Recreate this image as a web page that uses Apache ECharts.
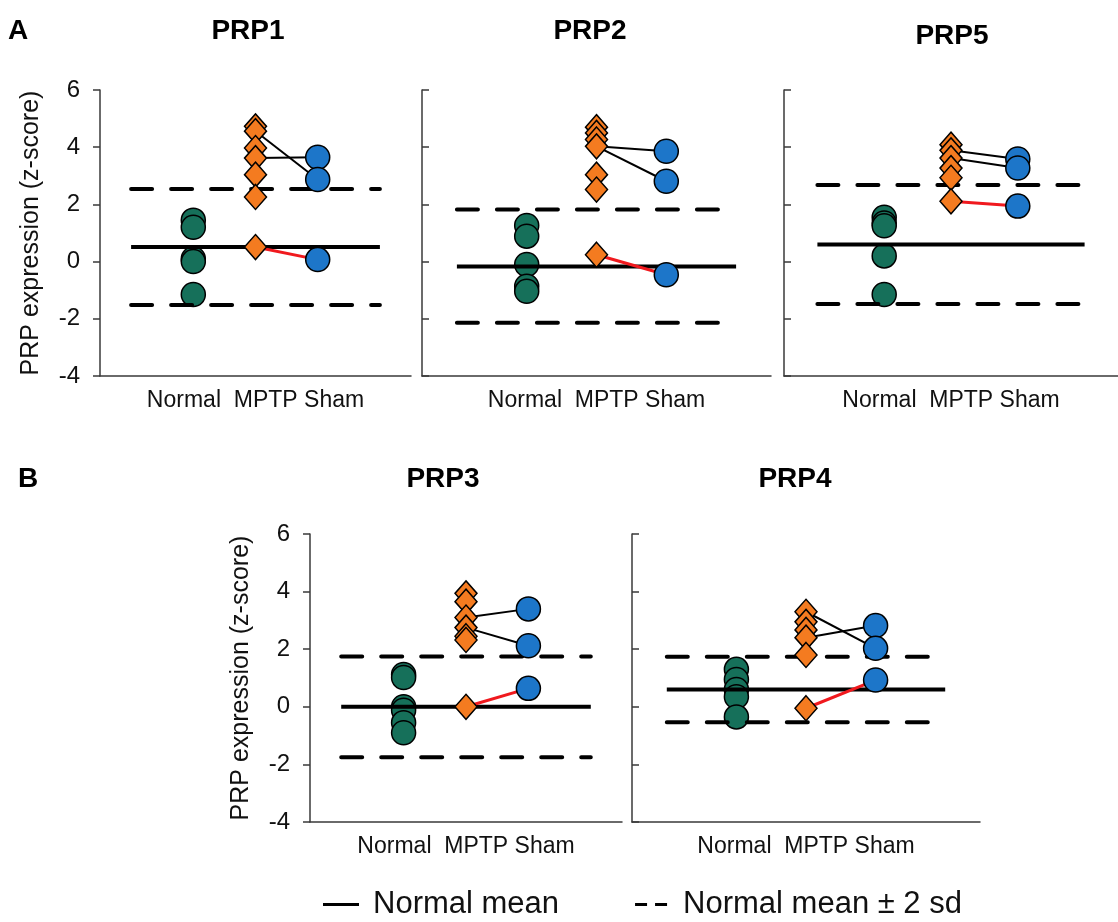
<!DOCTYPE html>
<html>
<head>
<meta charset="utf-8">
<script src="https://cdn.jsdelivr.net/npm/echarts@6/dist/echarts.min.js"></script>
<style>
  html, body { margin: 0; padding: 0; background: #fff; }
  #main { width: 1118px; height: 922px; }
</style>
</head>
<body>
<div id="main"></div>
<script>
// values (z-scores)
const groups = ['Normal', 'MPTP', 'Sham'];
const panelTitles = ['PRP1', 'PRP2', 'PRP5', 'PRP3', 'PRP4'];

const normalVals = [
  [1.45, 1.2, 0.1, 0.0, -1.15],
  [1.26, 0.89, -0.1, -0.86, -1.04],
  [1.55, 1.35, 1.25, 0.2, -1.15],
  [1.12, 1.02, 0.0, -0.12, -0.55, -0.9],
  [1.3, 0.95, 0.6, 0.35, -0.35]
];
const mptpVals = [
  [4.73, 4.56, 3.97, 3.62, 3.04, 2.26, 0.51],
  [4.7, 4.5, 4.27, 4.03, 3.04, 2.52, 0.24],
  [4.09, 3.89, 3.62, 3.27, 2.93, 2.11],
  [3.94, 3.65, 3.1, 2.75, 2.45, 2.32, 0.0],
  [3.3, 2.95, 2.67, 2.4, 1.8, -0.05]
];
const shamVals = [
  [3.65, 2.87, 0.07],
  [3.86, 2.81, -0.46],
  [3.59, 3.27, 1.94],
  [3.4, 2.12, 0.64],
  [2.82, 2.03, 0.93]
];
// same animal before (MPTP) and after (Sham), [mptp, sham]
const blackLinks = [
  [[4.56, 2.87], [3.62, 3.65]],
  [[4.03, 3.86], [4.03, 2.81]],
  [[3.89, 3.59], [3.62, 3.27]],
  [[3.1, 3.4], [2.75, 2.12]],
  [[3.3, 2.03], [2.4, 2.82]]
];
const redLinks = [[0.51, 0.07], [0.24, -0.46], [2.11, 1.94], [0.0, 0.64], [-0.05, 0.93]];
const normalMean = [0.51, -0.17, 0.6, 0.0, 0.6];
const upper2sd = [2.54, 1.82, 2.68, 1.75, 1.74];
const lower2sd = [-1.52, -2.14, -1.48, -1.75, -0.54];

// layout
const grids = [
  { left: 100, top: 90, width: 311, height: 286 },
  { left: 422, top: 90, width: 349, height: 286 },
  { left: 784, top: 90, width: 345, height: 286 },
  { left: 310, top: 534, width: 312, height: 288 },
  { left: 632, top: 534, width: 348, height: 288 }
];
const showLabels = [true, false, false, true, false];
const titlePos = [[248, 31], [590, 31], [952, 36], [443, 479], [795, 479]];

const GREEN = '#16705a', ORANGE = '#f47b20', BLUE = '#1d76c9', AXIS = '#3a3a3a';
const cats = [''].concat(groups, [' ']);

var chartDom = document.getElementById('main');
var myChart = echarts.init(chartDom);

const xAxes = [], yAxes = [], series = [];
grids.forEach((g, i) => {
  xAxes.push({
    type: 'category', gridIndex: i, data: cats, boundaryGap: true,
    axisLine: { onZero: false, lineStyle: { color: AXIS, width: 1.5 } },
    axisTick: { show: false }, axisLabel: { show: false },
    name: groups.join('  ').replace('MPTP  ', 'MPTP '),
    nameLocation: 'middle', nameGap: 13,
    nameTextStyle: { fontSize: 23, color: '#111' }
  });
  yAxes.push({
    type: 'value', gridIndex: i, min: -4, max: 6, interval: 2,
    axisLine: { show: true, lineStyle: { color: AXIS, width: 1.5 } },
    axisTick: { show: true, inside: !showLabels[i], length: 7, lineStyle: { color: AXIS, width: 1.5 } },
    axisLabel: { show: showLabels[i], fontSize: 24, color: '#111', margin: 20 },
    splitLine: { show: false },
    name: showLabels[i] ? 'PRP expression (z-score)' : '',
    nameLocation: 'middle', nameGap: 56,
    nameTextStyle: { fontSize: 25, color: '#111' }
  });

  const ax = { xAxisIndex: i, yAxisIndex: i };
  series.push(Object.assign({
    type: 'scatter', name: 'Normal', symbol: 'circle', symbolSize: 24, z: 2,
    itemStyle: { color: GREEN, borderColor: '#000', borderWidth: 1.5, opacity: 1 },
    data: normalVals[i].map(v => ['Normal', v])
  }, ax));
  series.push(Object.assign({
    type: 'line', name: 'Normal mean', symbol: 'none', z: 3,
    lineStyle: { color: '#000', width: 4 },
    data: [[0, normalMean[i]], [4, normalMean[i]]]
  }, ax));
  [upper2sd, lower2sd].forEach(arr => {
    series.push(Object.assign({
      type: 'line', name: 'Normal mean ± 2 sd', symbol: 'none', z: 3,
      lineStyle: { color: '#000', width: 4, type: [21, 19], cap: 'round' },
      data: [[0, arr[i]], [4, arr[i]]]
    }, ax));
  });
  blackLinks[i].forEach(p => {
    series.push(Object.assign({
      type: 'line', name: 'link', symbol: 'none', z: 4,
      lineStyle: { color: '#000', width: 2 },
      data: [['MPTP', p[0]], ['Sham', p[1]]]
    }, ax));
  });
  series.push(Object.assign({
    type: 'line', name: 'link', symbol: 'none', z: 4,
    lineStyle: { color: '#f0191e', width: 3 },
    data: [['MPTP', redLinks[i][0]], ['Sham', redLinks[i][1]]]
  }, ax));
  series.push(Object.assign({
    type: 'scatter', name: 'MPTP', symbol: 'diamond', symbolSize: [22, 25], z: 5,
    itemStyle: { color: ORANGE, borderColor: '#000', borderWidth: 1.5, opacity: 1 },
    data: mptpVals[i].map(v => ['MPTP', v])
  }, ax));
  series.push(Object.assign({
    type: 'scatter', name: 'Sham', symbol: 'circle', symbolSize: 24, z: 5,
    itemStyle: { color: BLUE, borderColor: '#000', borderWidth: 1.5, opacity: 1 },
    data: shamVals[i].map(v => ['Sham', v])
  }, ax));
});

const titleFont = 'bold 28px "Liberation Sans", Arial';
const texts = panelTitles.map((t, i) => ({
  type: 'text', x: titlePos[i][0], y: titlePos[i][1],
  style: { text: t, fill: '#000', font: titleFont, textAlign: 'center', textVerticalAlign: 'middle' }
}));
texts.push({ type: 'text', x: 18, y: 31, style: { text: 'A', fill: '#000', font: titleFont, textAlign: 'center', textVerticalAlign: 'middle' } });
texts.push({ type: 'text', x: 28, y: 479, style: { text: 'B', fill: '#000', font: titleFont, textAlign: 'center', textVerticalAlign: 'middle' } });

var option = {
  animation: false,
  backgroundColor: '#fff',
  textStyle: { fontFamily: '"Liberation Sans", Arial, sans-serif' },
  grid: grids,
  xAxis: xAxes,
  yAxis: yAxes,
  series: series,
  legend: {
    left: 318, top: 884, itemWidth: 36, itemHeight: 3, itemGap: 76,
    selectedMode: false,
    itemStyle: { color: '#000', borderWidth: 0 },
    textStyle: { fontSize: 31, color: '#111', padding: [0, 0, 0, 9] },
    data: [
      { name: 'Normal mean', icon: 'path://M0,0H36V3H0Z' },
      { name: 'Normal mean ± 2 sd', icon: 'path://M0,0H12V3H0Z M20,0H32V3H20Z' }
    ]
  },
  graphic: texts
};

option && myChart.setOption(option);
</script>
</body>
</html>
